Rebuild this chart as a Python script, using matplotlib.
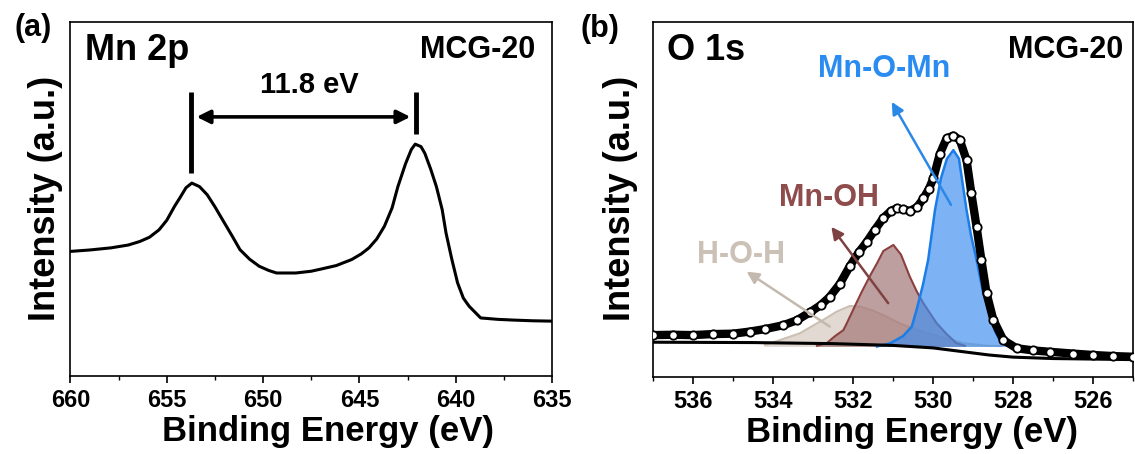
import matplotlib
matplotlib.use("Agg")
import matplotlib.pyplot as plt
from matplotlib.ticker import MultipleLocator

plt.rcParams['font.family'] = ['Liberation Sans', 'DejaVu Sans']
plt.rcParams['font.weight'] = 'bold'

# ---------------- data: (a) Mn 2p ----------------
mn_be = [660.0, 659.0, 657.9, 657.0, 656.4, 655.9, 655.4, 655.0, 654.6, 654.3,
         654.0, 653.7, 653.3, 652.9, 652.5, 652.1, 651.6, 651.2, 650.7, 650.2,
         649.7, 649.3, 648.3, 647.5, 647.0, 646.2, 645.4, 644.9, 644.5, 644.1,
         643.7, 643.3, 643.0, 642.6, 642.3, 642.1, 641.8, 641.6, 641.3, 641.0,
         640.7, 640.5, 640.2, 639.9, 639.6, 639.3, 638.7, 637.8, 637.0, 636.0,
         635.0]
mn_int = [0.352, 0.356, 0.362, 0.370, 0.380, 0.392, 0.413, 0.440, 0.479, 0.505,
          0.532, 0.545, 0.535, 0.512, 0.478, 0.441, 0.395, 0.357, 0.330, 0.310,
          0.298, 0.291, 0.291, 0.296, 0.302, 0.312, 0.329, 0.345, 0.362, 0.387,
          0.423, 0.475, 0.535, 0.600, 0.640, 0.655, 0.648, 0.629, 0.585, 0.535,
          0.470, 0.404, 0.330, 0.263, 0.220, 0.197, 0.164, 0.160, 0.158, 0.156,
          0.155]
split_peaks = [653.75, 642.05]
split_label = "11.8 eV"
a_ticks = [660, 655, 650, 645, 640, 635]

# ---------------- data: (b) O 1s ----------------
o_be = [537.0, 536.5, 536.0, 535.5, 535.0, 534.58, 534.2, 533.74, 533.4, 533.08,
        532.8, 532.58, 532.33, 532.08, 531.85, 531.66, 531.45, 531.24, 531.05, 530.91,
        530.75, 530.58, 530.4, 530.24, 530.1, 529.99, 529.83, 529.66, 529.49, 529.33,
        529.16, 529.04, 528.91, 528.79, 528.66, 528.49, 528.24, 527.91, 527.5, 527.08,
        526.5, 526.0, 525.5, 525.0]
o_int = [0.118, 0.119, 0.118, 0.121, 0.122, 0.128, 0.135, 0.146, 0.160, 0.182,
         0.203, 0.226, 0.262, 0.312, 0.352, 0.380, 0.415, 0.448, 0.468, 0.475,
         0.472, 0.468, 0.478, 0.503, 0.530, 0.560, 0.628, 0.672, 0.680, 0.668,
         0.611, 0.517, 0.423, 0.330, 0.236, 0.161, 0.104, 0.081, 0.075, 0.071,
         0.066, 0.062, 0.059, 0.057]
bg_be = [537.0, 534.5, 532.5, 531.0, 530.0, 529.3, 528.6, 528.0, 527.0, 525.0]
bg_int = [0.098, 0.097, 0.094, 0.089, 0.082, 0.072, 0.062, 0.056, 0.052, 0.049]

hoh_be = [534.2, 533.8, 533.33, 532.95, 532.74, 532.41, 532.08, 531.8, 531.5, 531.16,
          530.85, 530.58, 530.2, 529.83, 529.24, 528.66, 528.3]
hoh_int = [0.090, 0.105, 0.123, 0.148, 0.161, 0.184, 0.200, 0.198, 0.187, 0.170,
           0.152, 0.140, 0.125, 0.114, 0.095, 0.088, 0.087]
mnoh_be = [532.9, 532.66, 532.45, 532.24, 532.16, 531.95, 531.78, 531.55, 531.4, 531.24,
           530.99, 530.8, 530.58, 530.4, 530.24, 529.91, 529.65, 529.41, 529.2]
mnoh_int = [0.088, 0.095, 0.115, 0.132, 0.150, 0.200, 0.240, 0.290, 0.320, 0.355,
            0.372, 0.345, 0.283, 0.240, 0.208, 0.152, 0.120, 0.095, 0.088]
mnomn_be = [531.4, 531.07, 530.75, 530.53, 530.41, 530.25, 530.12, 529.95, 529.8, 529.65,
            529.49, 529.35, 529.16, 529.05, 528.91, 528.75, 528.62, 528.45, 528.33, 528.12,
            527.9]
mnomn_int = [0.086, 0.095, 0.115, 0.142, 0.189, 0.260, 0.330, 0.470, 0.560, 0.615,
             0.639, 0.615, 0.470, 0.400, 0.330, 0.240, 0.189, 0.130, 0.104, 0.090,
             0.086]
comp_base = 0.086
b_ticks = [536, 534, 532, 530, 528, 526]

fig = plt.figure(figsize=(11.35, 4.54), dpi=100)
axa = fig.add_axes([0.0621, 0.1718, 0.4242, 0.7797])
axb = fig.add_axes([0.5753, 0.1696, 0.4229, 0.7819])

def style(ax, xl, xr, ticks, minor):
    ax.set_xlim(xl, xr)
    ax.set_ylim(0, 1)
    ax.set_xticks(ticks)
    ax.xaxis.set_minor_locator(MultipleLocator(minor))
    ax.set_yticks([])
    ax.tick_params(axis='x', which='major', direction='out', length=5, width=1.2,
                   labelsize=17, pad=4)
    ax.tick_params(axis='x', which='minor', direction='out', length=3, width=1.0)
    for s in ax.spines.values():
        s.set_linewidth(1.2)
    ax.set_xlabel('Binding Energy (eV)', fontsize=25, fontweight='bold')
    ax.set_ylabel('Intensity (a.u.)', fontsize=26, fontweight='bold')

# ---------- panel (a) ----------
style(axa, 660, 635, a_ticks, 2.5)
axa.plot(mn_be, mn_int, color='black', lw=2.2)
axa.vlines(split_peaks[0], 0.573, 0.803, color='black', lw=3.5)
axa.vlines(split_peaks[1], 0.685, 0.803, color='black', lw=3.5)
axa.annotate('', xy=(split_peaks[1] + 0.3, 0.732), xytext=(split_peaks[0] - 0.3, 0.732),
             arrowprops=dict(arrowstyle='<|-|>', lw=2.6, color='black', mutation_scale=20,
                             shrinkA=0, shrinkB=0))
axa.text(647.6, 0.822, split_label, ha='center', va='center', fontsize=21, fontweight='bold')
axa.text(0.03, 0.92, 'Mn 2p', transform=axa.transAxes, ha='left', va='center',
         fontsize=26, fontweight='bold')
axa.text(0.965, 0.92, 'MCG-20', transform=axa.transAxes, ha='right', va='center',
         fontsize=22, fontweight='bold')
axa.xaxis.set_label_coords(0.535, -0.11)
axa.yaxis.set_label_coords(-0.016, 0.503)

# ---------- panel (b) ----------
style(axb, 537, 525, b_ticks, 1)
axb.fill_between(hoh_be, comp_base, hoh_int, color='#ddd4ca', alpha=0.85, lw=0, zorder=2)
axb.plot(hoh_be, hoh_int, color='#cbbfb3', lw=1.5, zorder=2.1)
axb.fill_between(mnoh_be, comp_base, mnoh_int, color='#a67a7a', alpha=0.72, lw=0, zorder=3)
axb.plot(mnoh_be, mnoh_int, color='#8b3f3f', lw=1.5, zorder=3.1)
axb.fill_between(mnomn_be, comp_base, mnomn_int, color='#3f8eef', alpha=0.68, lw=0, zorder=4)
axb.plot(mnomn_be, mnomn_int, color='#1a7de8', lw=1.8, zorder=4.1)
axb.plot(bg_be, bg_int, color='black', lw=2.2, zorder=4.5)
axb.plot(o_be, o_int, color='black', lw=6, zorder=5)
axb.plot(o_be, o_int, ls='none', marker='o', ms=6, mfc='white', mec='black', mew=1.3, zorder=6)

axb.text(0.03, 0.92, 'O 1s', transform=axb.transAxes, ha='left', va='center',
         fontsize=26, fontweight='bold')
axb.text(0.98, 0.92, 'MCG-20', transform=axb.transAxes, ha='right', va='center',
         fontsize=22, fontweight='bold')
axb.text(531.22, 0.868, 'Mn-O-Mn', color='#2a8cf0', ha='center', va='center',
         fontsize=22, fontweight='bold', zorder=7)
axb.text(532.6, 0.503, 'Mn-OH', color='#8e4c4c', ha='center', va='center',
         fontsize=22, fontweight='bold', zorder=7)
axb.text(534.8, 0.344, 'H-O-H', color='#cbc1b7', ha='center', va='center',
         fontsize=22, fontweight='bold', zorder=7)
axb.annotate('', xy=(531.03, 0.775), xytext=(529.55, 0.485),
             arrowprops=dict(arrowstyle='-|>', lw=1.8, color='#2a88e6', mutation_scale=18,
                             shrinkA=0, shrinkB=0), zorder=8)
axb.annotate('', xy=(532.54, 0.423), xytext=(531.12, 0.208),
             arrowprops=dict(arrowstyle='-|>', lw=1.8, color='#7f4242', mutation_scale=18,
                             shrinkA=0, shrinkB=0), zorder=8)
axb.annotate('', xy=(534.66, 0.297), xytext=(532.58, 0.142),
             arrowprops=dict(arrowstyle='-|>', lw=1.8, color='#c4b9ae', mutation_scale=18,
                             shrinkA=0, shrinkB=0), zorder=8)
axb.xaxis.set_label_coords(0.539, -0.11)
axb.yaxis.set_label_coords(-0.031, 0.503)

fig.text(33 / 1135, 1 - 28 / 454, '(a)', ha='center', va='center', fontsize=22, fontweight='bold')
fig.text(600 / 1135, 1 - 29 / 454, '(b)', ha='center', va='center', fontsize=22, fontweight='bold')

fig.savefig('out.png', dpi=100)
